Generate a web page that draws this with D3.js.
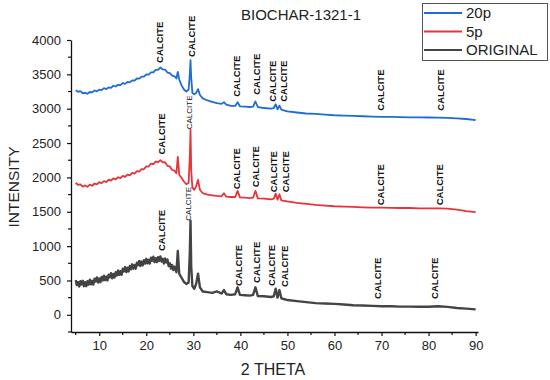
<!DOCTYPE html>
<html>
<head>
<meta charset="utf-8">
<script src="https://cdn.jsdelivr.net/npm/d3@7/dist/d3.min.js"></script>
<style>
	html, body { margin: 0; padding: 0; background: #fff; }
	svg { display: block; font-family: Arial, "Liberation Sans", sans-serif; }
</style>
</head>
<body>
<svg id="chart" width="550" height="380"></svg>
<script>
// 2-theta grid for the 20p and 5p scans (finer around the peaks)
var theta = [5, 5.5, 6, 6.5, 7, 7.5, 8, 8.5, 9, 9.5, 10, 10.5, 11, 11.5, 12, 12.5, 13, 13.5, 14, 14.5, 15, 15.5,
	16, 16.5, 17, 17.5, 18, 18.5, 19, 19.5, 20, 20.5, 21, 21.5, 22, 22.5, 23, 23.5, 24, 24.5, 25, 25.5, 26,
	26.4, 26.7, 27.0, 27.5, 28, 28.5, 29.0, 29.25, 29.4, 29.55, 29.8, 30.2, 30.6, 31.0, 31.4, 32, 33, 34, 35, 36, 36.5, 37, 38, 38.9,
	39.4, 39.9, 41, 42, 42.7, 43.2, 43.7, 45, 46.5, 47.1, 47.5, 47.9, 48.3, 48.7, 49.2, 50,
	52, 54, 56, 58, 60, 62, 64, 66, 68, 70, 72, 74, 76, 78, 80, 82, 84, 86, 88, 90];

var series20p = [3270, 3246, 3255, 3225, 3231, 3218, 3243, 3237, 3265, 3253, 3278, 3271, 3300, 3286, 3310, 3303, 3334, 3323, 3348, 3343, 3374, 3362,
	3389, 3384, 3413, 3408, 3440, 3437, 3468, 3466, 3500, 3497, 3528, 3529, 3565, 3566, 3600, 3571, 3570, 3526, 3518, 3480, 3470,
	3440, 3535, 3425, 3340, 3280, 3250, 3280, 3500, 3705, 3450, 3230, 3210, 3230, 3285, 3200, 3150, 3120, 3100, 3080, 3070, 3095, 3060, 3040, 3040,
	3095, 3035, 3030, 3025, 3030, 3105, 3025, 3010, 3000, 3010, 3065, 2990, 3045, 2985, 2975, 2960,
	2945, 2930, 2925, 2915, 2905, 2900, 2895, 2890, 2885, 2882, 2880, 2878, 2875, 2875, 2872, 2870, 2868, 2860, 2850, 2835];

var series5p = [1922, 1890, 1900, 1866, 1882, 1863, 1894, 1879, 1911, 1898, 1932, 1916, 1947, 1933, 1967, 1953, 1987, 1971, 2003, 1988, 2022, 2008,
	2042, 2030, 2067, 2056, 2092, 2083, 2122, 2118, 2162, 2158, 2202, 2193, 2232, 2220, 2252, 2218, 2222, 2168, 2160, 2108, 2098,
	2060, 2300, 2040, 1990, 1940, 1900, 1920, 2300, 2700, 2100, 1850, 1820, 1870, 1965, 1820, 1770, 1750, 1740, 1730, 1725, 1770, 1720, 1715, 1715,
	1805, 1710, 1705, 1700, 1705, 1805, 1695, 1690, 1680, 1690, 1765, 1675, 1755, 1665, 1660, 1650,
	1630, 1615, 1600, 1590, 1580, 1575, 1570, 1565, 1560, 1560, 1558, 1555, 1555, 1550, 1550, 1548, 1545, 1530, 1510, 1495];

// the original scan is noisier, so it is read more densely at low angles
var thetaOrig = [5, 5.25, 5.5, 5.75, 6, 6.25, 6.5, 6.75, 7, 7.25, 7.5, 7.75, 8, 8.25, 8.5, 8.75, 9, 9.25, 9.5, 9.75,
	10, 10.25, 10.5, 10.75, 11, 11.25, 11.5, 11.75, 12, 12.25, 12.5, 12.75, 13, 13.25, 13.5, 13.75, 14, 14.25, 14.5, 14.75,
	15, 15.25, 15.5, 15.75, 16, 16.25, 16.5, 16.75, 17, 17.25, 17.5, 17.75, 18, 18.25, 18.5, 18.75, 19, 19.25, 19.5, 19.75,
	20, 20.25, 20.5, 20.75, 21, 21.25, 21.5, 21.75, 22, 22.25, 22.5, 22.75, 23, 23.25, 23.5, 23.75, 24, 24.25, 24.5, 24.75,
	25, 25.25, 25.5, 25.75, 26,
	26.4, 26.7, 27.0, 27.5, 28, 28.5, 29.0, 29.25, 29.4, 29.55, 29.8, 30.2, 30.6, 31.0, 31.4, 32, 33, 34, 35, 36, 36.5, 37, 38, 38.9,
	39.4, 39.9, 41, 42, 42.7, 43.2, 43.7, 45, 46.5, 47.1, 47.5, 47.9, 48.3, 48.7, 49.2, 50,
	52, 54, 56, 58, 60, 62, 64, 66, 68, 70, 72, 74, 76, 78, 80, 82, 84, 86, 88, 90];

var seriesOrig = [505, 432, 475, 412, 490, 442, 495, 417, 475, 417, 490, 440, 510, 445, 495, 440, 525, 485, 545, 470,
	530, 475, 550, 500, 570, 505, 555, 500, 585, 545, 605, 532, 595, 542, 620, 572, 645, 582, 635, 582,
	670, 632, 695, 622, 685, 632, 710, 662, 735, 672, 725, 672, 760, 722, 785, 712, 775, 720, 795, 745,
	815, 750, 800, 745, 830, 787, 845, 767, 825, 767, 840, 785, 850, 775, 815, 747, 820, 762, 805, 710,
	750, 672, 725, 652, 700,
	620, 930, 600, 540, 480, 450, 470, 900, 1370, 700, 420, 380, 450, 600, 400, 340, 330, 320, 340, 310, 360, 300, 290, 300,
	400, 290, 285, 280, 290, 400, 275, 270, 260, 270, 380, 250, 360, 240, 230, 215,
	200, 185, 170, 165, 160, 150, 140, 135, 130, 125, 125, 120, 120, 118, 118, 125, 115, 100, 90, 80];

var seriesNames = ["20p", "5p", "ORIGINAL"];
var seriesColors = ["#1f6dd3", "#e8333a", "#444444"];

// CALCITE marker labels: 2-theta and intensity at the foot of the label
var calTheta20 = [22.8, 29.7, 39.2, 43.4, 46.9, 49.2, 69.8, 82.5];
var calBase20 = [3667, 3754, 3174, 3203, 3101, 3101, 2971, 2971];
var calTheta5 = [23.2, 29.2, 39.2, 43.2, 47.0, 49.6, 69.8, 82.3];
var calBase5 = [2333, 2700, 1826, 1855, 1783, 1783, 1594, 1594];
var calThetaOrig = [23.2, 28.8, 39.6, 43.4, 46.6, 49.4, 69.1, 81.3];
var calBaseOrig = [928, 1370, 420, 464, 420, 406, 232, 232];

var xTicks = [10, 20, 30, 40, 50, 60, 70, 80, 90];
var yTicks = [0, 500, 1000, 1500, 2000, 2500, 3000, 3500, 4000];

var svg = d3.select("#chart");

var x = d3.scaleLinear().domain([4, 90.5]).range([71, 478]);
var y = d3.scaleLinear().domain([-250, 4000]).range([332, 40]);

var line = d3.line()
	.x(function(d) { return x(d[0]); })
	.y(function(d) { return y(d[1]); });

function pairs(ts, vals) {
	return ts.map(function(t, i) { return [t, vals[i]]; });
}

var allSeries = [
	{ ts: thetaOrig, vals: seriesOrig, color: seriesColors[2], width: 2.4, thetaL: calThetaOrig, baseL: calBaseOrig, thin: true },
	{ ts: theta, vals: series5p, color: seriesColors[1], width: 1.8, thetaL: calTheta5, baseL: calBase5, thin: true },
	{ ts: theta, vals: series20p, color: seriesColors[0], width: 1.8, thetaL: calTheta20, baseL: calBase20, thin: false }
];

allSeries.forEach(function(s) {
	svg.append("path")
		.datum(pairs(s.ts, s.vals))
		.attr("d", line)
		.attr("fill", "none")
		.attr("stroke", s.color)
		.attr("stroke-width", s.width)
		.attr("stroke-linejoin", "round");
});

// CALCITE labels (the 29.4 ones on 5p / ORIGINAL are in plain weight)
allSeries.forEach(function(s) {
	s.thetaL.forEach(function(t, j) {
		var regular = (j === 1 && s.thin);
		svg.append("text")
			.attr("transform", "translate(" + x(t) + "," + y(s.baseL[j]) + ") rotate(-90)")
			.attr("dy", "0.36em")
			.attr("font-size", regular ? 8 : 9.5)
			.attr("font-weight", regular ? "normal" : "bold")
			.attr("fill", "#111")
			.text("CALCITE");
	});
});

// axes
var xAxis = d3.axisBottom(x).tickValues(xTicks).tickSize(4).tickSizeOuter(0).tickPadding(5);
var gx = svg.append("g").attr("transform", "translate(0,332)").call(xAxis);
gx.selectAll(".tick text").attr("font-size", 13).attr("fill", "#222");

var yAxis = d3.axisLeft(y).tickValues(yTicks).tickFormat(d3.format("d"))
	.tickSize(4).tickSizeOuter(0).tickPadding(6);
var gy = svg.append("g").attr("transform", "translate(71,0)").call(yAxis);
gy.selectAll(".tick text").attr("font-size", 13).attr("fill", "#222");

[gx, gy].forEach(function(g) {
	g.select(".domain").attr("stroke", "#111").attr("stroke-width", 1.3);
	g.selectAll(".tick line").attr("stroke", "#111").attr("stroke-width", 1.2);
});

// minor ticks
svg.append("g").selectAll("line")
	.data(d3.range(5, 90, 10))
	.join("line")
	.attr("x1", function(d) { return x(d); }).attr("x2", function(d) { return x(d); })
	.attr("y1", 332).attr("y2", 335)
	.attr("stroke", "#111").attr("stroke-width", 1.2);
svg.append("g").selectAll("line")
	.data(d3.range(-250, 4000, 500))
	.join("line")
	.attr("x1", 71).attr("x2", 68)
	.attr("y1", function(d) { return y(d); }).attr("y2", function(d) { return y(d); })
	.attr("stroke", "#111").attr("stroke-width", 1.2);

// axis titles
svg.append("text")
	.attr("x", 273).attr("y", 375)
	.attr("text-anchor", "middle")
	.attr("font-size", 16)
	.attr("fill", "#222")
	.text("2 THETA");
svg.append("text")
	.attr("transform", "translate(19,187) rotate(-90)")
	.attr("text-anchor", "middle")
	.attr("font-size", 15.5)
	.attr("fill", "#222")
	.text("INTENSITY");

svg.append("text")
	.attr("x", 301).attr("y", 20)
	.attr("text-anchor", "middle")
	.attr("font-size", 15)
	.attr("fill", "#222")
	.text("BIOCHAR-1321-1");

// legend
var legend = svg.append("g");
legend.append("rect")
	.attr("x", 422.5).attr("y", 3.5).attr("width", 125).attr("height", 57)
	.attr("fill", "#fff").attr("stroke", "#555").attr("stroke-width", 1);
seriesNames.forEach(function(n, i) {
	var ly = 13 + i * 18.5;
	legend.append("line")
		.attr("x1", 424).attr("x2", 462)
		.attr("y1", ly).attr("y2", ly)
		.attr("stroke", seriesColors[i]).attr("stroke-width", 2);
	legend.append("text")
		.attr("x", 466).attr("y", ly)
		.attr("dy", "0.36em")
		.attr("font-size", 15)
		.attr("fill", "#222")
		.text(n);
});
</script>
</body>
</html>
